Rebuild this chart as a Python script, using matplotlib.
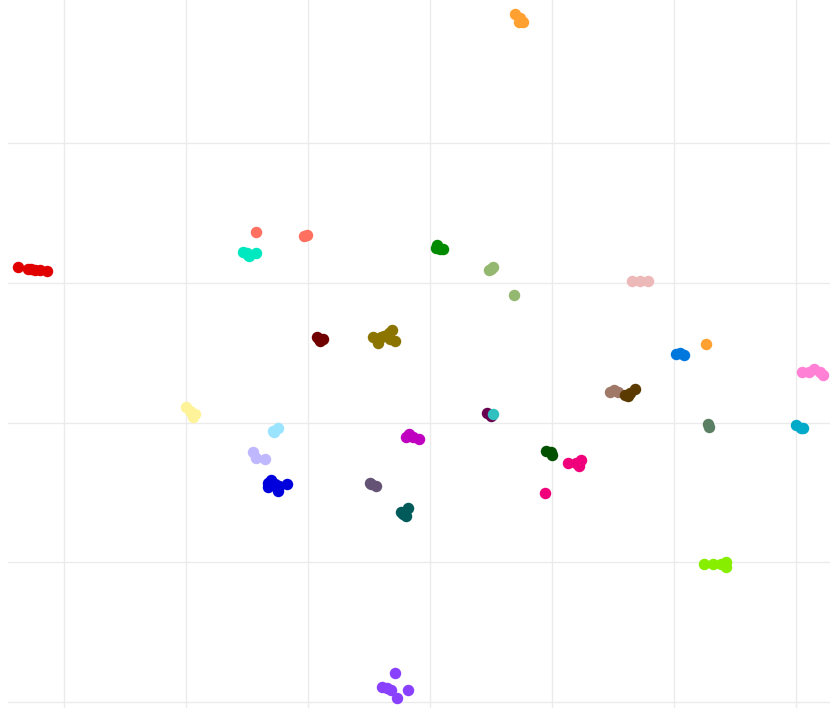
import matplotlib
matplotlib.use('Agg')
import matplotlib.pyplot as plt

# cluster embedding coordinates
red_x = [-33.8, -33.0, -32.7, -32.4, -32.0, -31.4]
red_y = [11.1, 11.0, 10.95, 10.9, 10.9, 10.8]
salmon_x = [-14.3, -10.1, -10.3]
salmon_y = [13.6, 13.4, 13.3]
aqua_x = [-15.3, -14.8, -14.3, -14.9, -15.0]
aqua_y = [12.2, 11.9, 12.1, 12.0, 12.15]
maroon_x = [-9.3, -9.0, -8.8, -9.1]
maroon_y = [6.1, 5.8, 6.0, 6.0]
olive_x = [-4.7, -4.0, -3.4, -3.1, -2.9, -4.3, -3.8, -3.3]
olive_y = [6.1, 6.1, 6.4, 6.6, 5.8, 5.7, 6.2, 6.0]
green_x = [0.5, 0.8, 1.1, 0.6]
green_y = [12.5, 12.4, 12.4, 12.7]
sage_x = [4.8, 5.2, 6.9, 5.0]
sage_y = [10.9, 11.1, 9.1, 11.0]
palepink_x = [16.6, 17.2, 17.9]
palepink_y = [10.1, 10.1, 10.1]
blue_x = [20.2, 20.8, 20.5]
blue_y = [4.9, 4.8, 4.95]
orange_x = [22.6, 7.0, 7.4, 7.6, 7.3]
orange_y = [5.6, 29.2, 28.9, 28.6, 28.6]
pink_x = [30.5, 31.1, 31.5, 32.0, 32.2]
pink_y = [3.6, 3.6, 3.8, 3.6, 3.4]
tan_x = [14.8, 15.1, 15.4]
tan_y = [2.2, 2.3, 2.2]
brown_x = [16.0, 16.4, 16.8, 16.2]
brown_y = [2.0, 2.1, 2.4, 1.9]
greygreen_x = [22.8, 22.9]
greygreen_y = [-0.1, -0.3]
teal_x = [30.0, 30.4, 30.6]
teal_y = [-0.2, -0.4, -0.4]
yellow_x = [-20.0, -19.7, -19.3, -19.4]
yellow_y = [1.1, 0.8, 0.6, 0.4]
lightblue_x = [-12.9, -12.5, -12.8]
lightblue_y = [-0.6, -0.4, -0.7]
lavender_x = [-14.5, -14.3, -13.5]
lavender_y = [-2.1, -2.5, -2.6]
darkblue_x = [-13.3, -12.7, -11.7, -12.5, -13.3, -13.0, -12.4]
darkblue_y = [-4.3, -4.4, -4.4, -4.9, -4.6, -4.1, -4.5]
magenta_x = [-1.7, -2.0, -1.4, -0.9]
magenta_y = [-0.8, -1.0, -1.0, -1.2]
dusk_x = [-4.9, -4.4, -4.8]
dusk_y = [-4.3, -4.5, -4.4]
darkteal_x = [-2.4, -2.0, -1.8, -2.2]
darkteal_y = [-6.4, -6.7, -6.1, -6.5]
plum_x = [4.7, 5.0]
plum_y = [0.7, 0.5]
cyan_x = [5.2]
cyan_y = [0.6]
darkgreen_x = [9.5, 9.9, 10.0]
darkgreen_y = [-2.0, -2.1, -2.3]
hotpink_x = [11.3, 12.0, 12.4, 12.2, 9.4]
hotpink_y = [-2.9, -2.9, -2.7, -3.1, -5.0]
lime_x = [22.5, 23.2, 23.9, 24.3, 24.3]
lime_y = [-10.1, -10.1, -10.1, -10.0, -10.3]
violet_x = [-2.9, -3.9, -3.2, -2.7, -1.8, -3.5]
violet_y = [-17.9, -18.9, -19.1, -19.7, -19.1, -19.0]

groups = [
    (red_x, red_y, '#e00000'),
    (salmon_x, salmon_y, '#ff7060'),
    (aqua_x, aqua_y, '#00e8c0'),
    (maroon_x, maroon_y, '#700000'),
    (olive_x, olive_y, '#8c7400'),
    (green_x, green_y, '#008a00'),
    (sage_x, sage_y, '#94b870'),
    (palepink_x, palepink_y, '#edb8b8'),
    (blue_x, blue_y, '#0077dd'),
    (orange_x, orange_y, '#ffa030'),
    (pink_x, pink_y, '#ff80d4'),
    (tan_x, tan_y, '#a07868'),
    (brown_x, brown_y, '#5a3a00'),
    (greygreen_x, greygreen_y, '#5a7f62'),
    (teal_x, teal_y, '#00aac8'),
    (yellow_x, yellow_y, '#fff39a'),
    (lightblue_x, lightblue_y, '#9ae4ff'),
    (lavender_x, lavender_y, '#c0b8ff'),
    (darkblue_x, darkblue_y, '#0000dd'),
    (magenta_x, magenta_y, '#c000c0'),
    (dusk_x, dusk_y, '#645374'),
    (darkteal_x, darkteal_y, '#005a5a'),
    (plum_x, plum_y, '#6a0050'),
    (cyan_x, cyan_y, '#30c0c0'),
    (darkgreen_x, darkgreen_y, '#005000'),
    (hotpink_x, hotpink_y, '#f0007a'),
    (lime_x, lime_y, '#88ee00'),
    (violet_x, violet_y, '#8a40ff'),
]

fig = plt.figure(figsize=(8.31, 7.08), dpi=100)
ax = fig.add_axes([8 / 831, 0, 822 / 831, 1])
for gx, gy, c in groups:
    ax.scatter(gx, gy, s=68, color=c, linewidths=0, zorder=3)

ax.set_xlim(-34.6, 32.8)
ax.set_ylim(-20.4, 30.2)
ax.set_xticks([-30, -20, -10, 0, 10, 20, 30])
ax.set_yticks([-20, -10, 0, 10, 20])
ax.grid(True, color='#ebebeb', linewidth=1)
ax.tick_params(length=0, labelbottom=False, labelleft=False)
for s in ax.spines.values():
    s.set_visible(False)

fig.savefig('out.png', dpi=100)
